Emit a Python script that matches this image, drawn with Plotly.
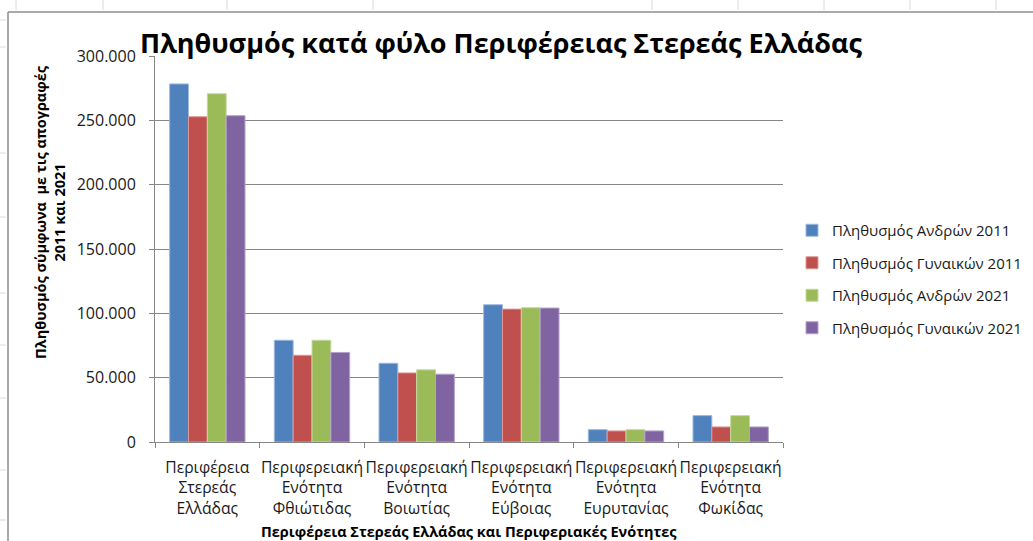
import plotly.graph_objects as go

# categories (multi-line tick labels)
categories = [
    "Περιφέρεια<br>Στερεάς<br>Ελλάδας",
    "Περιφερειακή<br>Ενότητα<br>Φθιώτιδας",
    "Περιφερειακή<br>Ενότητα<br>Βοιωτίας",
    "Περιφερειακή<br>Ενότητα<br>Εύβοιας",
    "Περιφερειακή<br>Ενότητα<br>Ευρυτανίας",
    "Περιφερειακή<br>Ενότητα<br>Φωκίδας",
]

men_2011 = [278300, 79100, 61200, 106700, 9600, 20500]
women_2011 = [252800, 67400, 53700, 103300, 8600, 11700]
men_2021 = [270700, 79100, 56100, 104400, 9600, 20500]
women_2021 = [253600, 69600, 52700, 104100, 8600, 11700]

series_names = [
    "Πληθυσμός Ανδρών 2011",
    "Πληθυσμός Γυναικών 2011",
    "Πληθυσμός Ανδρών 2021",
    "Πληθυσμός Γυναικών 2021",
]
series_values = [men_2011, women_2011, men_2021, women_2021]
colors = ["#4F81BD", "#C0504D", "#9BBB59", "#8064A2"]
edges = ["#9DB9DE", "#DE9896", "#C6DA9E", "#B3A2C9"]

y_ticks = [0, 50000, 100000, 150000, 200000, 250000, 300000]
y_ticktext = ["0", "50.000", "100.000", "150.000", "200.000", "250.000", "300.000"]

FONT = "Open Sans"
W, H = 1033, 541
L, R, T, B = 155, 250, 56, 99
PW, PH = W - L - R, H - T - B


def px(x):
    return (x - L) / PW


def py(y):
    return (H - B - y) / PH


fig = go.Figure()
for i, (name, vals) in enumerate(zip(series_names, series_values)):
    fig.add_trace(
        go.Bar(
            x=categories,
            y=vals,
            name=name,
            legendgroup=str(i),
            marker=dict(color=colors[i], line=dict(color=edges[i], width=1)),
        )
    )

# chart border and spreadsheet grid around it
shapes = [
    dict(type="line", xref="paper", yref="paper", x0=px(8), x1=px(W + 5),
         y0=py(12), y1=py(12), line=dict(color="#8E8E8E", width=1.5)),
    dict(type="line", xref="paper", yref="paper", x0=px(8), x1=px(8),
         y0=py(12), y1=py(H + 5), line=dict(color="#8E8E8E", width=1.5)),
]
for cx in [16, 103, 227, 373, 652, 738, 824, 910, 996]:
    shapes.append(dict(type="line", xref="paper", yref="paper", x0=px(cx), x1=px(cx),
                       y0=py(0), y1=py(10), line=dict(color="#D6DAE2", width=1)))
for ry in [20, 47, 153, 217, 293, 345, 398, 470, 520]:
    shapes.append(dict(type="line", xref="paper", yref="paper", x0=px(0), x1=px(6),
                       y0=py(ry), y1=py(ry), line=dict(color="#D6DAE2", width=1)))

fig.update_layout(
    width=W,
    height=H,
    margin=dict(l=L, r=R, t=T, b=B, autoexpand=False),
    paper_bgcolor="white",
    plot_bgcolor="white",
    barmode="group",
    bargap=0.28,
    bargroupgap=0,
    font=dict(family=FONT, color="#1A1A1A"),
    title=dict(
        text="<b>Πληθυσμός κατά φύλο Περιφέρειας Στερεάς Ελλάδας</b>",
        x=501 / W, xanchor="center",
        y=1 - 44 / H, yanchor="middle",
        font=dict(size=27, color="black", family=FONT),
    ),
    xaxis=dict(
        showline=True, linecolor="#868686", linewidth=1,
        ticks="outside", tickson="boundaries", ticklen=5, tickcolor="#868686",
        tickfont=dict(size=15.7), ticklabelstandoff=11, tickangle=0,
        showgrid=False, automargin=False,
    ),
    yaxis=dict(
        range=[0, 300000],
        tickvals=y_ticks, ticktext=y_ticktext,
        showline=True, linecolor="#868686", linewidth=1,
        ticks="outside", ticklen=5, tickcolor="#868686",
        tickfont=dict(size=16), ticklabelstandoff=10,
        showgrid=True, gridcolor="#868686", gridwidth=1,
        zeroline=False, automargin=False,
    ),
    legend=dict(
        x=px(792), xanchor="left",
        y=py(214), yanchor="top",
        font=dict(size=15),
        traceorder="grouped",
        tracegroupgap=10,
        bgcolor="rgba(0,0,0,0)",
    ),
    shapes=shapes,
    annotations=[
        dict(
            text="<b>Πληθυσμός σύμφωνα  με τις απογραφές<br>2011 και 2021</b>",
            xref="paper", yref="paper", x=px(50), y=py(212),
            xanchor="center", yanchor="middle", textangle=-90,
            showarrow=False, font=dict(size=14.5, color="black"),
        ),
        dict(
            text="<b>Περιφέρεια Στερεάς Ελλάδας και Περιφεριακές Ενότητες</b>",
            xref="paper", yref="paper", x=px(469), y=py(531),
            xanchor="center", yanchor="middle",
            showarrow=False, font=dict(size=14.5, color="black"),
        ),
    ],
)

fig.write_html(
    "out.html",
    config={"displayModeBar": False},
    post_script="document.body.style.margin='0';",
)
